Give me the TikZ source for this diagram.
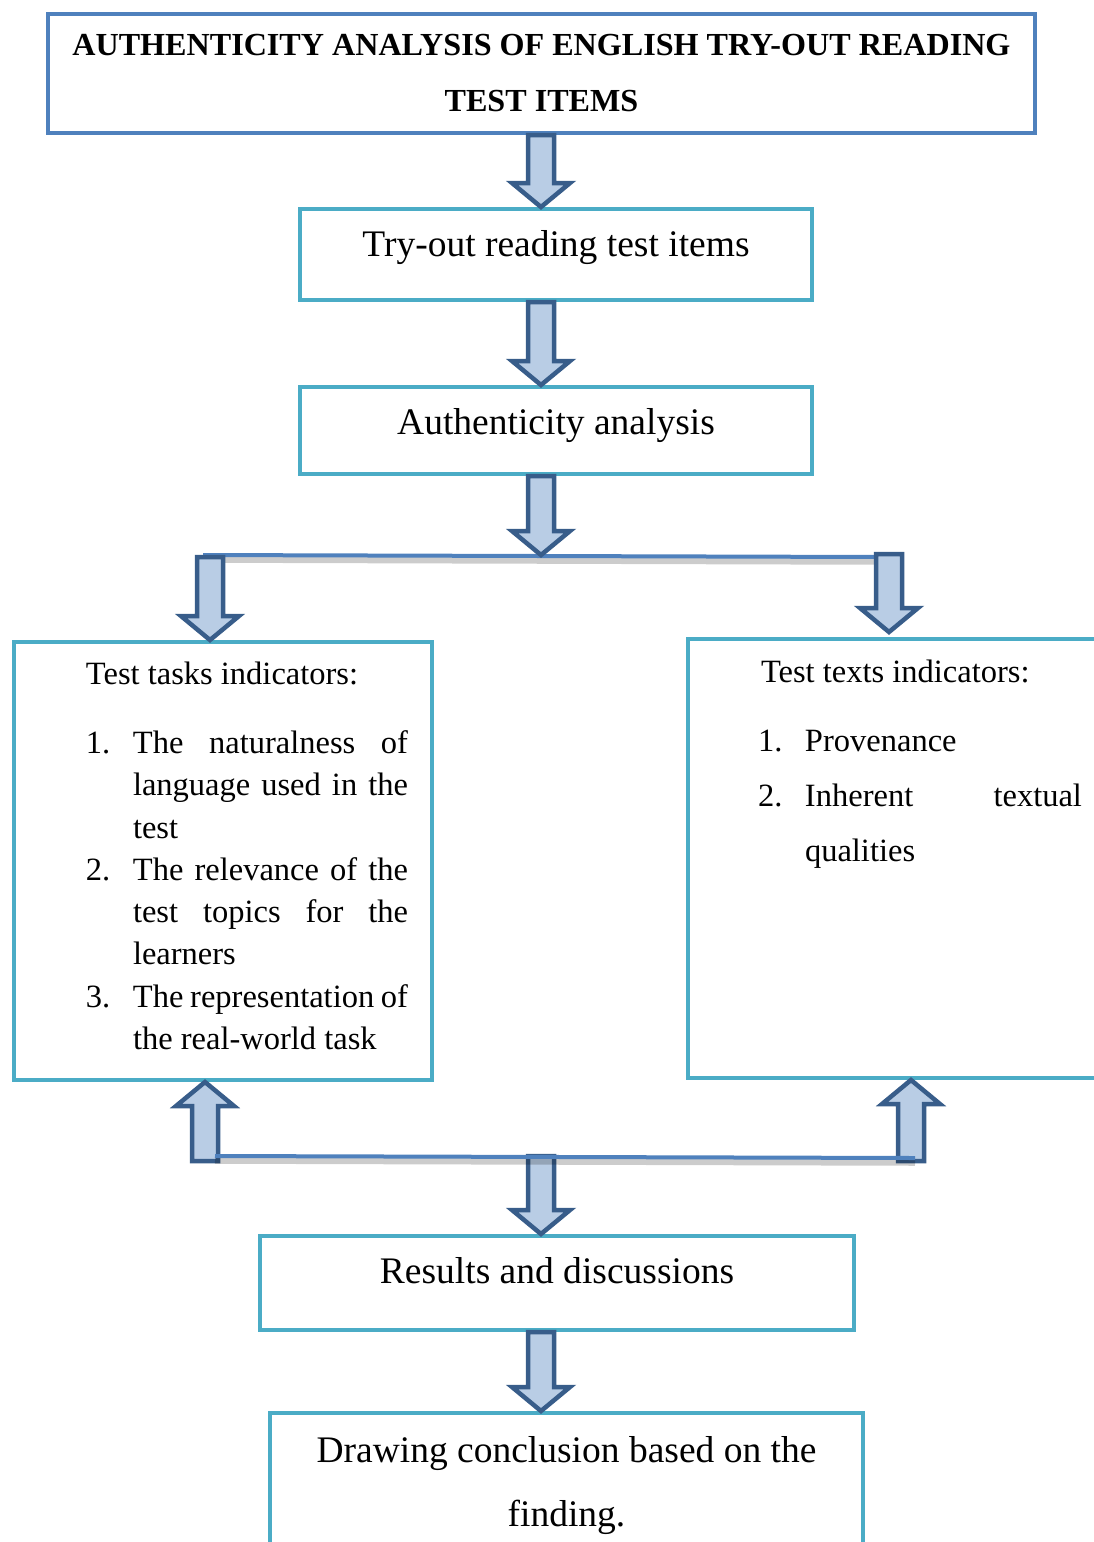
\documentclass[tikz,border=0pt]{standalone}
\usepackage{fontspec}
\setmainfont{Liberation Serif}
\usetikzlibrary{calc}
\definecolor{boxteal}{HTML}{4BACC6}
\definecolor{titleblue}{HTML}{4F81BD}
\definecolor{arrowedge}{HTML}{385D8A}
\definecolor{arrowfill}{HTML}{B9CDE5}
\newcommand*{\shaftw}{5.2pt}
\newcommand*{\headw }{11.6pt}
\newcommand*{\headl }{9.6pt}
\newcommand*{\numw  }{18.8pt}
\newcommand*{\panelfont}{\fontsize{13}{16.9}\selectfont\tolerance=10000 }
\newcommand{\listline}[2]{\par\noindent\hangindent=\numw\hangafter=1\makebox[\numw][l]{#1}#2\par}
\newcommand*{\blockarrow}[2]{%
  \draw[blockarr] let \p1=(#1), \p2=(#2), \n1={ifthenelse(\y2<\y1,1,-1)} in
    ({\x1-\shaftw},\y1) -- ({\x1-\shaftw},{\y2+(\n1)*\headl}) -- ({\x1-\headw},{\y2+(\n1)*\headl})
    -- (\x1,\y2) -- ({\x1+\headw},{\y2+(\n1)*\headl}) -- ({\x1+\shaftw},{\y2+(\n1)*\headl})
    -- ({\x1+\shaftw},\y1) -- cycle;}

\begin{document}
\begin{tikzpicture}[x=0.4pt, y=-0.4pt,
    stage/.style={draw=boxteal, line width=1.6pt, inner sep=0pt, align=center, font=\fontsize{15}{18}\selectfont},
    midtext/.style={text height=10pt, text depth=#1},
    blockarr/.style={draw=arrowedge, fill=arrowfill, line width=1.8pt, line join=miter},
    linkline/.style={draw=titleblue, line width=1.6pt,
        preaction={draw=black, opacity=.2, line width=2.6pt, transform canvas={yshift=-1.8pt}}}]
    \useasboundingbox (0,0) rectangle (1094,1542);
    \clip (0,0) rectangle (1094,1542);

    % boxes
    \node [stage, draw=titleblue, minimum width=394.8pt, minimum height=47.6pt,
           font=\bfseries\fontsize{12.85}{22.4}\selectfont] (top) at (541.5,73.5)
          {AUTHENTICITY ANALYSIS OF ENGLISH TRY-OUT READING\\TEST ITEMS};
    \node [stage, midtext=8.8pt, minimum width=204.8pt, minimum height=36.4pt] (try) at (556,254.5) {Try-out reading test items};
    \node [stage, midtext=7.2pt, minimum width=204.8pt, minimum height=34.8pt] (analysis) at (556,430.5) {Authenticity analysis};
    \node [stage, anchor=north west] (tasks) at (12,640) {\parbox[t][175.2pt][t]{167.2pt}{%
        \vspace*{7.9pt}\hspace*{28.8pt}\parbox[t]{128.8pt}{\panelfont
        Test tasks indicators:\par\vspace{10.8pt}
        \listline{1.}{The naturalness of\linebreak language used in the\linebreak test}
        \listline{2.}{The relevance of the\linebreak test topics for the\linebreak learners}
        \listline{3.}{The representation of\linebreak the real-world task}}}};
    \node [stage, anchor=north west] (texts) at (686,637) {\parbox[t][175.6pt][t]{169.6pt}{%
        \vspace*{8.4pt}\hspace*{28pt}\parbox[t]{129.6pt}{\panelfont\fontsize{13}{22}\selectfont
        \hspace*{1.2pt}Test texts indicators:\par\vspace{5.6pt}
        \listline{1.}{Provenance}
        \listline{2.}{Inherent textual\linebreak qualities}}}};
    \node [stage, midtext=10pt, minimum width=237.6pt, minimum height=37.6pt] (results) at (557,1283) {Results and discussions};
    \node [stage, minimum width=237.2pt, minimum height=58pt, font=\fontsize{15}{25.6}\selectfont] (drawing) at (566.5,1485.5)
          {Drawing conclusion based on the\\finding.};

    % free ends of the arrows and lines
    \coordinate (col) at (541,0);
    \coordinate (splitL) at (203,555);
    \coordinate (splitR) at (880,557);
    \coordinate (tasksin) at (210,557);
    \coordinate (textsin) at (889,554);
    \coordinate (textsend) at (889,632);
    \coordinate (tasksout) at (205,1161);
    \coordinate (textsout) at (911,1161);
    \coordinate (joinL) at (215,1156);
    \coordinate (joinR) at (915,1158);

    \draw [linkline] (splitL) -- (splitR);

    \blockarrow{top.south -| col}{try.north -| col}
    \blockarrow{try.south -| col}{analysis.north -| col}
    \blockarrow{analysis.south -| col}{splitL -| col}
    \blockarrow{tasksin}{tasks.north -| tasksin}
    \blockarrow{textsin}{textsend}
    \blockarrow{tasksout}{tasks.south -| tasksout}
    \blockarrow{textsout}{texts.south -| textsout}
    \blockarrow{joinL -| col}{results.north -| col}
    \blockarrow{results.south -| col}{drawing.north -| col}

    \draw [linkline] (joinL) -- (joinR);
\end{tikzpicture}
\end{document}
